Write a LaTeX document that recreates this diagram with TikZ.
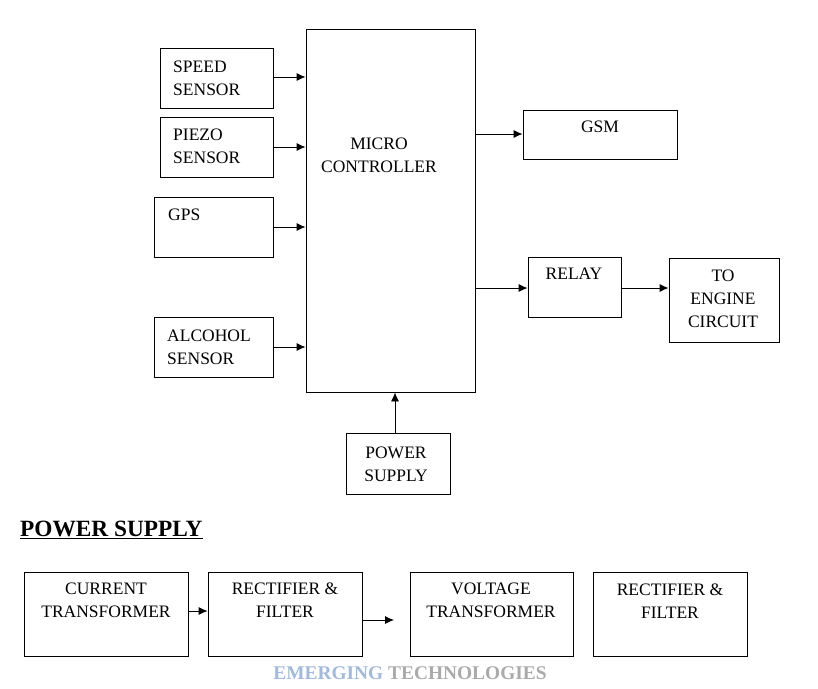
\documentclass[tikz,border=0pt]{standalone}
\usepackage{fontspec}
\setmainfont{Liberation Serif}
\usetikzlibrary{arrows.meta}
\begin{document}
\begin{tikzpicture}[x=1pt,y=-1pt,
 box/.style={draw,line width=0.8pt,inner sep=0pt},
 txt/.style={inner sep=0pt,font=\fontsize{17.5}{23}\selectfont},
 arr/.style={-{Latex[length=9pt,width=8pt]},line width=0.8pt}]
\useasboundingbox (0,0) rectangle (818,688);
\newcommand{\bx}[6]{\node[box,#6,minimum width=#4-#2,minimum height=#5-#3] (#1) at ({(#2+#4)/2},{(#3+#5)/2}) {};}
\bx{speed}{160}{48}{273}{108}{}
\bx{piezo}{160}{117}{273}{177}{}
\bx{gps}{154}{197}{273}{257}{}
\bx{alc}{154}{317}{273}{377}{}
\bx{mc}{306}{29}{475}{392}{}
\bx{gsm}{523}{110}{677}{159}{}
\bx{relay}{528}{257}{621}{317}{}
\bx{eng}{669}{258}{779}{342}{}
\bx{ps}{346}{433}{450}{494}{}
\bx{b1}{24}{572}{188}{656}{}
\bx{b2}{208}{572}{362}{656}{}
\bx{b3}{410}{572}{573}{656}{}
\bx{b4}{593}{572}{747}{656}{}
\node[txt,anchor=west,align=left] (tspeed) at (173,78) {SPEED\\SENSOR};
\node[txt,anchor=west,align=left] (tpiezo) at (173,146) {PIEZO\\SENSOR};
\node[txt,anchor=west] (tgps) at (168,215) {GPS};
\node[txt,anchor=west,align=left] (talc) at (167,347) {ALCOHOL\\SENSOR};
\node[txt,align=center] (tmc) at (379,155) {MICRO\\CONTROLLER};
\node[txt] (tgsm) at (600,127) {GSM};
\node[txt] (trelay) at (574,274) {RELAY};
\node[txt,align=center] (teng) at (723,299) {TO\\ENGINE\\CIRCUIT};
\node[txt,align=center] (tps) at (396,464) {POWER\\SUPPLY};
\node[txt,align=center] (tb1) at (106,600) {CURRENT\\TRANSFORMER};
\node[txt,align=center] (tb2) at (285,600) {RECTIFIER \&\\FILTER};
\node[txt,align=center] (tb3) at (491,600) {VOLTAGE\\TRANSFORMER};
\node[txt,align=center] (tb4) at (670,601) {RECTIFIER \&\\FILTER};
\node[inner sep=0pt,anchor=west,font=\fontsize{23.3}{24}\selectfont\bfseries] (head) at (20,530) {\underline{POWER SUPPLY}};
\node[inner sep=0pt,font=\fontsize{19.4}{20}\selectfont\bfseries] (wm) at (410,673) {\textcolor[RGB]{160,185,220}{EMERGING} \textcolor[RGB]{170,170,170}{TECHNOLOGIES}};
\coordinate (fe) at (394,620);
\draw[arr] (speed.east|-0,77) -- (mc.west|-0,77);
\draw[arr] (piezo.east|-0,147) -- (mc.west|-0,147);
\draw[arr] (gps.east|-0,227) -- (mc.west|-0,227);
\draw[arr] (alc.east|-0,347) -- (mc.west|-0,347);
\draw[arr] (mc.east|-0,134) -- (gsm.west|-0,134);
\draw[arr] (mc.east|-0,288) -- (relay.west|-0,288);
\draw[arr] (relay.east|-0,288) -- (eng.west|-0,288);
\draw[arr] (ps.north-|395,0) -- (mc.south-|395,0);
\draw[arr] (b1.east|-0,611) -- (b2.west|-0,611);
\draw[arr] (b2.east|-0,620) -- (fe);
\end{tikzpicture}
\end{document}
